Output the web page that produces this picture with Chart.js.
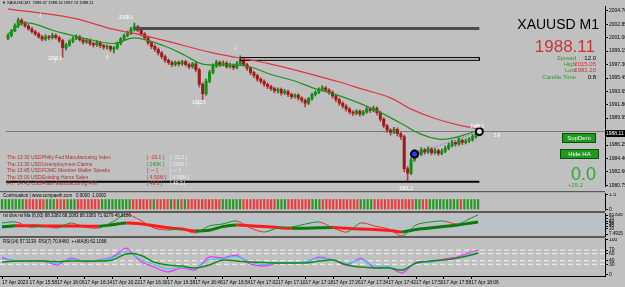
<!DOCTYPE html>
<html>
<head>
<meta charset="utf-8">
<script src="https://cdn.jsdelivr.net/npm/chart.js@4.4.0/dist/chart.umd.min.js"></script>
<style>
body{margin:0;width:625px;height:287px;background:#c0c0c0;position:relative;overflow:hidden;font-family:"Liberation Sans",Arial,sans-serif}
canvas{position:absolute;left:0}
.t{position:absolute;white-space:nowrap;line-height:1}
.sep{position:absolute;left:0;width:605px}
.news{position:absolute;left:7px;width:200px;height:6px;font-size:5px;line-height:1;color:#a83232;white-space:nowrap}
.news span{position:absolute;top:0}
.btn{position:absolute;background:#1f9a1f;border:1px solid #0d4d0d;color:#fff;font-size:6px;text-align:center;line-height:8px}
.fr{position:absolute;color:#fff;font-size:8px;font-weight:bold;line-height:1}
.fl{position:absolute;color:#fff;font-size:4.5px;line-height:1;white-space:nowrap}
</style>
</head>
<body>
<canvas id="cMain" width="625" height="192" style="top:0"></canvas>
<canvas id="cCont" width="625" height="18" style="top:193px"></canvas>
<canvas id="cDiv" width="625" height="24" style="top:213px"></canvas>
<canvas id="cRsi" width="625" height="49" style="top:238px"></canvas>

<div class="sep" style="top:191px;height:1px;background:#5a5a5a"></div>
<div class="sep" style="top:192px;height:1px;background:#a8a8a8"></div>
<div class="sep" style="top:211px;height:2px;background:#5a5a5a"></div>
<div class="sep" style="top:236px;height:2px;background:#5a5a5a"></div>

<div class="t" style="left:2px;top:1px;font-size:4px;color:#000">&#9660; XAUUSD,M1&nbsp; 1988.07 1988.16 1987.74 1988.11</div>

<div class="t" style="right:26px;top:17px;font-size:14px;color:#000">XAUUSD M1</div>
<div class="t" style="right:30px;top:38px;font-size:17px;color:#cc3535">1988.11</div>
<div class="t" style="right:49px;top:55px;font-size:6px;color:#2e9a2e">Spread</div>
<div class="t" style="right:29px;top:55px;font-size:6px;color:#000">12.0</div>
<div class="t" style="right:49px;top:61px;font-size:6px;color:#2e9a2e">High</div>
<div class="t" style="right:29px;top:61px;font-size:6px;color:#cc3535">2015.05</div>
<div class="t" style="right:49px;top:67px;font-size:6px;color:#2e9a2e">Low</div>
<div class="t" style="right:29px;top:67px;font-size:6px;color:#cc3535">1981.20</div>
<div class="t" style="right:49px;top:74px;font-size:6px;color:#2e9a2e">Candle Time</div>
<div class="t" style="right:29px;top:74px;font-size:6px;color:#000">0:8</div>

<div class="btn" style="left:562px;top:133px;width:32px;height:8px">SupDem</div>
<div class="btn" style="left:560px;top:149px;width:37px;height:8px">Hide HA</div>
<div class="t" style="right:29px;top:165px;font-size:18px;color:#2ea82e">0.0</div>
<div class="t" style="left:568px;top:182px;font-size:6px;color:#2ea82e">+29.2</div>

<div class="news" style="top:155px"><span style="left:0">Thu</span><span style="left:10px">13:30</span><span style="left:24px">USD</span><span style="left:35px">Philly Fed Manufacturing Index</span><span style="left:140px;color:#c03030">[ -19.1 ]</span><span style="left:163px;color:#ececec">[ -23.2 ]</span></div>
<div class="news" style="top:162px"><span style="left:0">Thu</span><span style="left:10px">13:30</span><span style="left:24px">USD</span><span style="left:35px">Unemployment Claims</span><span style="left:140px;color:#2a9a2a">[ 240K ]</span><span style="left:163px;color:#ececec">[ 239K ]</span></div>
<div class="news" style="top:168px"><span style="left:0">Thu</span><span style="left:10px">13:45</span><span style="left:24px">USD</span><span style="left:35px">FOMC Member Waller Speaks</span><span style="left:140px;color:#c03030">[ --- ]</span><span style="left:163px;color:#ececec">[ --- ]</span></div>
<div class="news" style="top:175px"><span style="left:0">Thu</span><span style="left:10px">15:00</span><span style="left:24px">USD</span><span style="left:35px">Existing Home Sales</span><span style="left:140px;color:#c03030">[ 4.50M ]</span><span style="left:163px;color:#ececec">[ 4.58M ]</span></div>
<div class="news" style="top:181px"><span style="left:0">Fri</span><span style="left:10px">14:45</span><span style="left:24px">USD</span><span style="left:35px">Flash Manufacturing PMI</span><span style="left:140px;color:#c03030">[ 49.0 ]</span><span style="left:163px;color:#ececec">[ 49.2 ]</span></div>

<div class="fr" style="left:38px;top:11px">&#8595;</div>
<div class="fr" style="left:125px;top:13px">&#8595;</div>
<div class="fl" style="left:119px;top:16px">2003.0</div>
<div class="fr" style="left:233px;top:44px">&#8595;</div>
<div class="fr" style="left:475px;top:121px">&#8595;</div>
<div class="fl" style="left:470px;top:125px">1988.3</div>
<div class="fr" style="left:53px;top:57px">&#8593;</div>
<div class="fl" style="left:48px;top:57px">1998.3</div>
<div class="fr" style="left:105px;top:54px">&#8593;</div>
<div class="fr" style="left:196px;top:101px">&#8593;</div>
<div class="fl" style="left:192px;top:101px">1992.5</div>
<div class="fl" style="left:399px;top:187px">1981.2</div>
<div class="fl" style="left:494px;top:134px">5.8</div>

<div class="t" style="left:606px;top:130px;width:19px;height:7px;background:#000;color:#fff;font-size:5px;line-height:7px">1988.11</div>

<div class="t" style="left:3px;top:194px;font-size:4.5px;color:#000">Continuation | www.compaeth.com&nbsp;&nbsp; 0.0000&nbsp; 1.0000</div>
<div class="t" style="left:3px;top:214px;font-size:4.5px;color:#000">rsi divs rsi Ma (6,00) 88.3383 88.2083 88.3383 71.9279 46.8186</div>
<div class="t" style="left:3px;top:240px;font-size:4.5px;color:#000">RSI(14) 57.3139&nbsp; RSI(7) 70.8460&nbsp; ++MA(8) 62.1068</div>

<script>
// M1 candles, 15:50 .. 18:08
const closes = [
  2001.30, 2001.90, 2002.60, 2003.40, 2003.00, 2002.60, 2002.20, 2001.80, 2001.50, 2001.10,
  2000.80, 2001.10, 2001.00, 2001.30, 2001.00, 2000.60, 1999.60, 2000.00, 2000.50, 2000.90,
  2001.10, 2000.70, 2000.40, 2000.60, 2000.20, 2000.00, 2000.30, 1999.90, 1999.70, 1999.80,
  1999.40, 1999.60, 2000.20, 2000.80, 2001.30, 2001.60, 2002.10, 2002.50, 2002.00, 2001.50,
  2001.00, 2000.30, 1999.80, 1999.40, 1998.90, 1998.40, 1997.90, 1997.60, 1997.30, 1997.60,
  1997.40, 1997.70, 1997.30, 1997.00, 1997.40, 1996.60, 1994.60, 1993.30, 1995.00, 1996.20,
  1997.10, 1997.60, 1997.30, 1997.50, 1997.00, 1997.20, 1996.90, 1997.40, 1997.90, 1997.30,
  1996.80, 1996.20, 1995.80, 1995.30, 1995.00, 1994.60, 1994.30, 1994.00, 1993.70, 1993.90,
  1993.40, 1993.60, 1993.20, 1992.90, 1993.10, 1992.70, 1992.40, 1992.00, 1992.60, 1993.20,
  1993.50, 1993.90, 1994.10, 1993.80, 1993.50, 1993.00, 1992.50, 1992.00, 1991.60, 1991.20,
  1990.80, 1990.60, 1990.90, 1990.50, 1990.80, 1991.20, 1991.00, 1991.30, 1990.70, 1989.80,
  1988.90, 1988.30, 1988.00, 1988.40, 1987.80, 1987.40, 1983.00, 1982.40, 1984.20, 1985.30,
  1985.00, 1985.60, 1985.30, 1985.70, 1985.20, 1985.50, 1985.10, 1985.40, 1985.80, 1986.20,
  1986.60, 1986.40, 1986.90, 1986.60, 1986.80, 1987.00, 1987.40, 1987.70, 1988.11
];
const highs = [
  2001.50, 2002.10, 2002.90, 2003.70, 2003.60, 2003.20, 2002.80, 2002.40, 2002.00, 2001.70,
  2001.30, 2001.40, 2001.30, 2001.60, 2001.50, 2001.20, 2000.80, 2000.20, 2000.70, 2001.10,
  2001.40, 2001.30, 2000.90, 2000.90, 2000.80, 2000.40, 2000.60, 2000.50, 2000.10, 2000.00,
  1999.90, 1999.80, 2000.40, 2001.00, 2001.50, 2001.90, 2002.40, 2003.00, 2002.70, 2002.20,
  2001.70, 2001.20, 2000.50, 2000.00, 1999.60, 1999.10, 1998.60, 1998.10, 1997.80, 1997.80,
  1997.80, 1997.90, 1997.90, 1997.50, 1997.60, 1997.60, 1996.80, 1994.80, 1995.30, 1996.50,
  1997.40, 1997.90, 1997.80, 1997.80, 1997.70, 1997.50, 1997.40, 1997.70, 1998.50, 1998.10,
  1997.50, 1997.00, 1996.40, 1996.00, 1995.50, 1995.20, 1994.80, 1994.50, 1994.20, 1994.10,
  1994.10, 1993.90, 1993.80, 1993.40, 1993.30, 1993.30, 1992.90, 1992.60, 1992.80, 1993.40,
  1993.70, 1994.10, 1994.40, 1994.30, 1994.00, 1993.70, 1993.20, 1992.70, 1992.20, 1991.80,
  1991.40, 1991.00, 1991.10, 1991.10, 1991.00, 1991.50, 1991.40, 1991.60, 1991.50, 1990.90,
  1990.00, 1989.10, 1988.50, 1988.70, 1988.60, 1988.00, 1987.60, 1983.30, 1984.50, 1985.60,
  1985.50, 1985.90, 1985.80, 1986.00, 1985.90, 1985.80, 1985.70, 1985.70, 1986.10, 1986.50,
  1986.90, 1986.80, 1987.20, 1987.10, 1987.10, 1987.30, 1987.70, 1988.00, 1988.30
];
const lows = [
  2000.70, 2001.10, 2001.80, 2002.40, 2002.70, 2002.40, 2002.00, 2001.60, 2001.30, 2000.90,
  2000.50, 2000.60, 2000.70, 2000.80, 2000.80, 2000.30, 1998.30, 1999.30, 1999.80, 2000.30,
  2000.70, 2000.50, 2000.10, 2000.20, 1999.90, 1999.70, 1999.80, 1999.60, 1999.40, 1999.40,
  1999.10, 1998.90, 1999.40, 2000.00, 2000.60, 2001.10, 2001.40, 2001.90, 2001.80, 2001.20,
  2000.70, 2000.00, 1999.50, 1999.10, 1998.60, 1998.10, 1997.60, 1997.30, 1997.00, 1997.10,
  1997.10, 1997.20, 1997.10, 1996.70, 1996.80, 1996.30, 1994.20, 1992.50, 1993.10, 1994.80,
  1996.00, 1996.90, 1997.00, 1997.10, 1996.80, 1996.80, 1996.60, 1996.70, 1997.20, 1997.10,
  1996.50, 1995.90, 1995.50, 1995.00, 1994.70, 1994.30, 1994.00, 1993.70, 1993.40, 1993.40,
  1993.10, 1993.20, 1992.90, 1992.60, 1992.70, 1992.40, 1992.10, 1991.50, 1991.80, 1992.40,
  1993.00, 1993.30, 1993.70, 1993.60, 1993.20, 1992.70, 1992.20, 1991.70, 1991.30, 1990.90,
  1990.50, 1990.30, 1990.40, 1990.20, 1990.30, 1990.60, 1990.70, 1990.80, 1990.40, 1989.50,
  1988.60, 1988.00, 1987.60, 1987.80, 1987.50, 1987.00, 1982.60, 1981.20, 1982.20, 1984.00,
  1984.60, 1984.80, 1985.00, 1985.10, 1984.90, 1985.00, 1984.80, 1984.90, 1985.20, 1985.60,
  1986.00, 1986.10, 1986.20, 1986.30, 1986.40, 1986.60, 1986.80, 1987.20, 1987.50
];
const firstOpen = 2000.90;
const opens = closes.map((c, i) => (i === 0 ? firstOpen : closes[i - 1]));

// moving averages (bar index, price)
const maGreenBar = [0, 5, 14, 23, 31, 37, 46, 52, 57, 66, 71, 77, 84, 89, 98, 107, 115, 121, 126, 130, 134, 138];
const maGreen = [2001.48, 2003.02, 2001.87, 2000.84, 2000.19, 2000.96, 1999.81, 1998.52, 1997.36, 1997.23, 1996.97,
  1995.94, 1995.04, 1994.14, 1992.86, 1991.18, 1989.25, 1987.71, 1987.07, 1987.19, 1987.71, 1988.35];
const maRedBar = [0, 19, 31, 38, 46, 60, 77, 96, 104, 112, 118, 125, 132, 138];
const maRed = [2004.95, 2003.67, 2002.12, 2001.48, 2000.58, 1998.91, 1997.36, 1995.04, 1993.89, 1992.73,
  1991.18, 1989.90, 1988.99, 1988.48];

const priceTicks = [2004.70, 2002.85, 2001.00, 1999.15, 1997.30, 1995.45, 1993.65, 1991.80, 1989.95,
  1986.25, 1984.40, 1982.60, 1980.75];
const lastPrice = 1988.11;
const dayLow = 1981.20;
const resistLevel = 2002.25, resistFrom = 37;
const zoneTop = 1998.26, zoneBottom = 1997.88, zoneFrom = 68;
const trendBars = [119, 138];
const trendPrices = [1985.01, 1988.11];

// Continuation histogram: 1 = green, 0 = red
const contSignal = [1,1,1,1,1,1,1, 0,0,0,0,0,0, 1,1,1, 0,0,0, 1,1,1, 0,0,0,0,0,0,0, 1,1,1,1,1,1,1,1,1,
  0,0,0,0,0,0, 1, 0,0,0,0, 1,0,1,0,1,0, 0,0,0,0,0,0,0,0,0, 1,1,1,1,1,1, 0,0,0,0,0,0,0,0,0,0, 1,1,1,
  0,0,0,0,0,0,0, 1,1,1, 0,0,0,0,0,0,0,0,0,0,0, 1,1,1,1, 0,0,0,0,0,0,0,0,0,0,0,0, 1,1, 0,0,
  1,1,1,1,1,1,1,1,1, 0, 1,1,1,1,1];

// indicator samples
const indBars = [0, 4, 8, 12, 16, 20, 24, 28, 32, 36, 40, 44, 48, 52, 56, 60, 64, 68, 72, 76, 80, 84, 88, 92,
  96, 100, 104, 108, 112, 116, 120, 124, 128, 132, 136, 138];
const divThick = [37, 41.5, 41.2, 40.9, 40.6, 40.3, 40.0, 39.8, 46, 52.9, 50, 42, 33, 28, 20, 23, 38, 44.7,
  42, 38, 34, 31, 31.5, 33, 34.4, 31, 28.5, 26, 23, 16, 26, 32, 38.5, 44.7, 52.9, 57];
const divThin = [52.9, 57, 36.4, 40.5, 32.3, 52.9, 36.4, 32.3, 57, 88, 65.3, 32.3, 24, 28.2, 11.7, 40.5, 48.8,
  61.2, 32.3, 15.8, 32.3, 36.4, 48.8, 57, 32.3, 15.8, 52.9, 40.5, 28.2, 0, 44.7, 57, 61.2, 48.8, 73.5, 85.8];
const divLevels = [70, 60, 50, 40, 30, 20];
const divTicks = [85.836, 70, 60, 50, 40, 30, 7.4915];

const rsiMagenta = [48.9, 39, 39, 39, 28, 47.7, 36.4, 42, 50.5, 75.8, 39, 22.3, 8.2, 19.5, 13.9, 50.5, 47.7, 56,
  30.8, 25, 33.6, 33.6, 36.4, 50.5, 42, 28, 47.7, 19.5, 22.3, 5.4, 36.4, 36.4, 44.8, 50.5, 64.6, 70.2];
const rsiCyan = [45, 40, 39, 39, 33, 44, 38, 41, 48, 66, 45, 30, 17, 22, 18, 42, 46, 52, 36, 29, 34, 34, 37, 47,
  42, 32, 43, 25, 24, 12, 33, 36, 42, 48, 58, 63];
const rsiMa = [36.4, 39, 39, 39, 37.8, 39, 39, 39, 42, 59, 56, 36.4, 28, 25, 19.5, 28, 42, 39, 36.4, 35, 33.6,
  33.6, 33.6, 39, 42, 28, 22.3, 19.5, 19.5, 13.9, 33.6, 39, 42, 47.7, 56, 61.7];
const rsiLevels = [70, 60, 40, 30];
const rsiTicks = [100, 70, 60, 40, 30, 0];

const timeBars = [0, 8, 16, 24, 32, 40, 48, 56, 64, 72, 80, 88, 96, 104, 112, 120, 128, 136];
const timeLabels = ['17 Apr 2023', '17 Apr 15:58', '17 Apr 16:06', '17 Apr 16:14', '17 Apr 16:22',
  '17 Apr 16:30', '17 Apr 16:38', '17 Apr 16:46', '17 Apr 16:54', '17 Apr 17:02', '17 Apr 17:10',
  '17 Apr 17:18', '17 Apr 17:26', '17 Apr 17:34', '17 Apr 17:42', '17 Apr 17:50', '17 Apr 17:58',
  '17 Apr 18:06'];

// ---------------------------------------------------------------
Chart.defaults.font.family = '"Liberation Sans", Arial, sans-serif';
Chart.defaults.color = '#000';

const X_MIN = -0.58, X_MAX = 174.78;
const BULL = '#129012', BEAR = '#9e1a1a';
const bars = closes.map((c, i) => i);
const pts = (xs, ys) => xs.map((x, i) => ({ x: x, y: ys[i] }));
const hline = (v, x0, x1) => [{ x: x0, y: v }, { x: x1, y: v }];

function fitY(axis) {
  axis.width = 20;
  axis.paddingTop = 0;
  axis.paddingBottom = 0;
}

function yAxis(min, max, ticks, fmt, size) {
  return {
    position: 'right', min: min, max: max,
    afterFit: fitY,
    afterBuildTicks: a => { a.ticks = ticks.map(v => ({ value: v })); },
    ticks: { font: { size: size }, color: '#000', padding: 1, autoSkip: false, callback: fmt },
    grid: { drawOnChartArea: false, tickLength: 3, color: '#000' },
    border: { color: '#000' }
  };
}

function baseOptions(scales) {
  return {
    responsive: false, animation: false, devicePixelRatio: 1,
    layout: { padding: 0 },
    plugins: { legend: { display: false }, tooltip: { enabled: false } },
    scales: scales
  };
}

const slopeColor = (up, down) => ({
  borderColor: ctx => (ctx.p1.parsed.y < ctx.p0.parsed.y ? down : up)
});

// main price window
new Chart(document.getElementById('cMain'), {
  type: 'bar',
  data: {
    datasets: [
      { type: 'line', data: pts(trendBars, trendPrices), borderColor: '#3a5cff', borderWidth: 1, borderDash: [1, 2],
        pointRadius: 3.5, pointBorderWidth: 2, pointBorderColor: '#000',
        pointBackgroundColor: ['#2040ff', '#d8d8d8'], order: 0 },
      { type: 'line', data: pts(maRedBar, maRed), borderColor: '#e2344c', borderWidth: 1.2, pointRadius: 0,
        tension: 0.4, order: 1 },
      { type: 'line', data: pts(maGreenBar, maGreen), borderColor: '#1c941c', borderWidth: 1.2, pointRadius: 0,
        tension: 0.4, order: 2 },
      { type: 'line', data: hline(resistLevel, resistFrom, 138), borderColor: '#4d4d4d', borderWidth: 3,
        pointRadius: 0, order: 3 },
      { type: 'line', data: [{ x: zoneFrom, y: zoneTop }, { x: 138, y: zoneTop }, { x: 138, y: zoneBottom },
        { x: zoneFrom, y: zoneBottom }, { x: zoneFrom, y: zoneTop }], borderColor: '#000', borderWidth: 1,
        pointRadius: 0, order: 3 },
      { type: 'line', data: hline(dayLow, X_MIN, 138), borderColor: '#000', borderWidth: 2, pointRadius: 0, order: 3 },
      { data: bars.map(i => ({ x: i, y: [opens[i], closes[i]] })), barThickness: 2.4, grouped: false,
        minBarLength: 1, backgroundColor: bars.map(i => (closes[i] >= opens[i] ? BULL : BEAR)), order: 4 },
      { data: bars.map(i => ({ x: i, y: [lows[i], highs[i]] })), barThickness: 1, grouped: false,
        backgroundColor: bars.map(i => (closes[i] >= opens[i] ? '#1a7a1a' : '#b04040')), order: 5 },
      { type: 'line', data: hline(lastPrice, X_MIN, X_MAX), borderColor: '#7c7c7c', borderWidth: 1,
        pointRadius: 0, order: 6 }
    ]
  },
  options: baseOptions({
    x: { type: 'linear', min: X_MIN, max: X_MAX, display: false, offset: false },
    y: yAxis(1980.63, 2005.34, priceTicks, v => v.toFixed(2), 5)
  })
});

// Continuation histogram
new Chart(document.getElementById('cCont'), {
  type: 'bar',
  data: {
    datasets: [{ data: bars.map(i => ({ x: i, y: 1 })), barThickness: 1.5, grouped: false,
      backgroundColor: contSignal.map(s => (s ? '#249a24' : '#f03a3a')) }]
  },
  options: baseOptions({
    x: { type: 'linear', min: X_MIN, max: X_MAX, display: false, offset: false },
    y: yAxis(-0.15, 1.65, [1.5, 0], v => String(v), 5)
  })
});

// rsi divergence window
new Chart(document.getElementById('cDiv'), {
  type: 'line',
  data: {
    datasets: [
      { data: pts(indBars, divThin), borderWidth: 1, pointRadius: 0, tension: 0.3,
        segment: slopeColor('#1e8c1e', '#e83030'), borderColor: '#1e8c1e' },
      { data: pts(indBars, divThick), borderWidth: 3, pointRadius: 0, tension: 0.3,
        segment: slopeColor('#0a7a0a', '#ff1a1a'), borderColor: '#0a7a0a' }
    ].concat(divLevels.map(v => ({ data: hline(v, X_MIN, X_MAX), borderColor: '#86d2ee', borderWidth: 1,
      borderDash: [1, 2], pointRadius: 0 })))
  },
  options: baseOptions({
    x: { type: 'linear', min: X_MIN, max: X_MAX, display: false },
    y: yAxis(-4.8, 94.1, divTicks, v => String(v), 4.5)
  })
});

// RSI window with the time axis
new Chart(document.getElementById('cRsi'), {
  type: 'line',
  data: {
    datasets: [
      { data: pts(indBars, rsiMa), borderColor: '#148a14', borderWidth: 1.5, pointRadius: 0, tension: 0.3 },
      { data: pts(indBars, rsiCyan), borderColor: '#38c8f0', borderWidth: 1.2, pointRadius: 0, tension: 0.3 },
      { data: pts(indBars, rsiMagenta), borderColor: '#ff20ff', borderWidth: 1.2, pointRadius: 0, tension: 0.2 }
    ].concat(rsiLevels.map(v => ({ data: hline(v, X_MIN, X_MAX), borderColor: '#f4f4f4', borderWidth: 1,
      borderDash: [5, 3], pointRadius: 0 })))
  },
  options: baseOptions({
    x: {
      type: 'linear', min: X_MIN, max: X_MAX, position: 'bottom',
      afterFit: a => { a.height = 11; a.paddingLeft = 0; a.paddingRight = 0; },
      afterBuildTicks: a => { a.ticks = timeBars.map(v => ({ value: v })); },
      ticks: { font: { size: 4.8 }, color: '#000', padding: 1, align: 'start', maxRotation: 0, autoSkip: false,
        callback: (v, i) => timeLabels[i] },
      grid: { drawOnChartArea: false, tickLength: 3, color: '#000' },
      border: { color: '#000' }
    },
    y: yAxis(-3, 104, rsiTicks, v => String(v), 5)
  })
});
</script>
</body>
</html>
